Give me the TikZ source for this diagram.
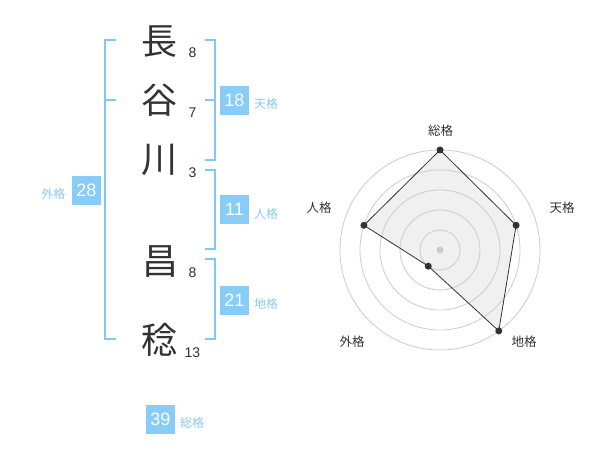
\documentclass[tikz,border=0pt]{standalone}
\usepackage{fontspec}
\usetikzlibrary{calc}
\setmainfont{Liberation Sans}
\newfontfamily\jp{Noto Sans CJK JP}
\definecolor{boxblue}{HTML}{88CCF8}
\definecolor{linkblue}{HTML}{80C8F8}
\definecolor{lblblue}{HTML}{88CCF0}
\definecolor{ink}{HTML}{333333}
\definecolor{ring}{HTML}{CCCCCC}
\definecolor{area}{HTML}{F0F0F0}
\begin{document}
\begin{tikzpicture}[x=1pt,y=-1pt,
  kanji/.style={inner sep=0pt,text=ink,font=\jp\fontsize{36}{36}\selectfont},
  strk/.style={inner sep=0pt,text=ink,font=\fontsize{14}{14}\selectfont},
  numbox/.style={fill=boxblue,text=white,minimum size=29pt,inner sep=0pt,font=\fontsize{18}{18}\selectfont},
  lbl/.style={inner sep=0pt,text=lblblue,font=\jp\fontsize{12}{12}\selectfont},
  rlbl/.style={inner sep=0pt,text=ink,font=\jp\fontsize{12.5}{12.5}\selectfont},
  brk/.style={draw=linkblue,line width=2pt},
  ringline/.style={draw=ring,line width=0.8pt},
  dot/.style={circle,fill=ink,inner sep=0pt,minimum size=7pt}
]
\useasboundingbox[fill=white] (0,0) rectangle (600,470);

% kanji
\node[kanji] (k1) at (159,42) {長};
\node[kanji] (k2) at (159,100) {谷};
\node[kanji] (k3) at (159,160) {川};
\node[kanji] (k4) at (160,262) {昌};
\node[kanji] (k5) at (159,340) {稔};

% stroke counts
\node[strk] (s1) at (192.5,52.5) {8};
\node[strk] (s2) at (192.5,112.5) {7};
\node[strk] (s3) at (192.5,172.5) {3};
\node[strk] (s4) at (192.5,272.5) {8};
\node[strk] (s5) at (192.5,352.5) {13};

% brackets
\draw[brk] (116,40) -- (105,40) -- (105,339) -- (116,339);
\draw[brk] (105,100) -- (116,100);
\draw[brk] (205,40) -- (215,40) -- (215,160) -- (205,160);
\draw[brk] (205,100) -- (215,100);
\draw[brk] (205,170) -- (215,170) -- (215,249.5) -- (205,249.5);
\draw[brk] (205,259.5) -- (215,259.5) -- (215,339) -- (205,339);

% number boxes and labels
\node[numbox] (b1) at (234.5,100.5) {18};
\node[lbl] (l1) at (266,104) {天格};
\node[numbox] (b2) at (234.5,209.5) {11};
\node[lbl] (l2) at (266,214) {人格};
\node[numbox] (b3) at (234.5,300.5) {21};
\node[lbl] (l3) at (266,304) {地格};
\node[numbox] (b4) at (86.5,190.5) {28};
\node[lbl] (l4) at (53.5,194) {外格};
\node[numbox] (b5) at (160.5,419.5) {39};
\node[lbl] (l5) at (192,423) {総格};

% radar chart
\coordinate (c) at (440,250);
\coordinate (p1) at ($(c)+(-90:100)$);
\coordinate (p2) at ($(c)+(-18:80)$);
\coordinate (p3) at ($(c)+(54:100)$);
\coordinate (p4) at ($(c)+(126:20)$);
\coordinate (p5) at ($(c)+(198:80)$);
\fill[area] (p1) -- (p2) -- (p3) -- (p4) -- (p5) -- cycle;
\foreach \r in {20,40,60,80,100} \draw[ringline] (c) circle[radius=\r];
\draw[ink,line width=0.8pt] (p1) -- (p2) -- (p3) -- (p4) -- (p5) -- cycle;
\node[circle,fill=ring,inner sep=0pt,minimum size=7pt] (cd) at (c) {};
\node[dot] (d1) at (p1) {};
\node[dot] (d2) at (p2) {};
\node[dot] (d3) at (p3) {};
\node[dot] (d4) at (p4) {};
\node[dot] (d5) at (p5) {};
\node[rlbl] (r1) at (440.7,131) {総格};
\node[rlbl] (r2) at (562,208) {天格};
\node[rlbl] (r3) at (319,208) {人格};
\node[rlbl] (r4) at (352,342) {外格};
\node[rlbl] (r5) at (524,342) {地格};
\end{tikzpicture}
\end{document}
